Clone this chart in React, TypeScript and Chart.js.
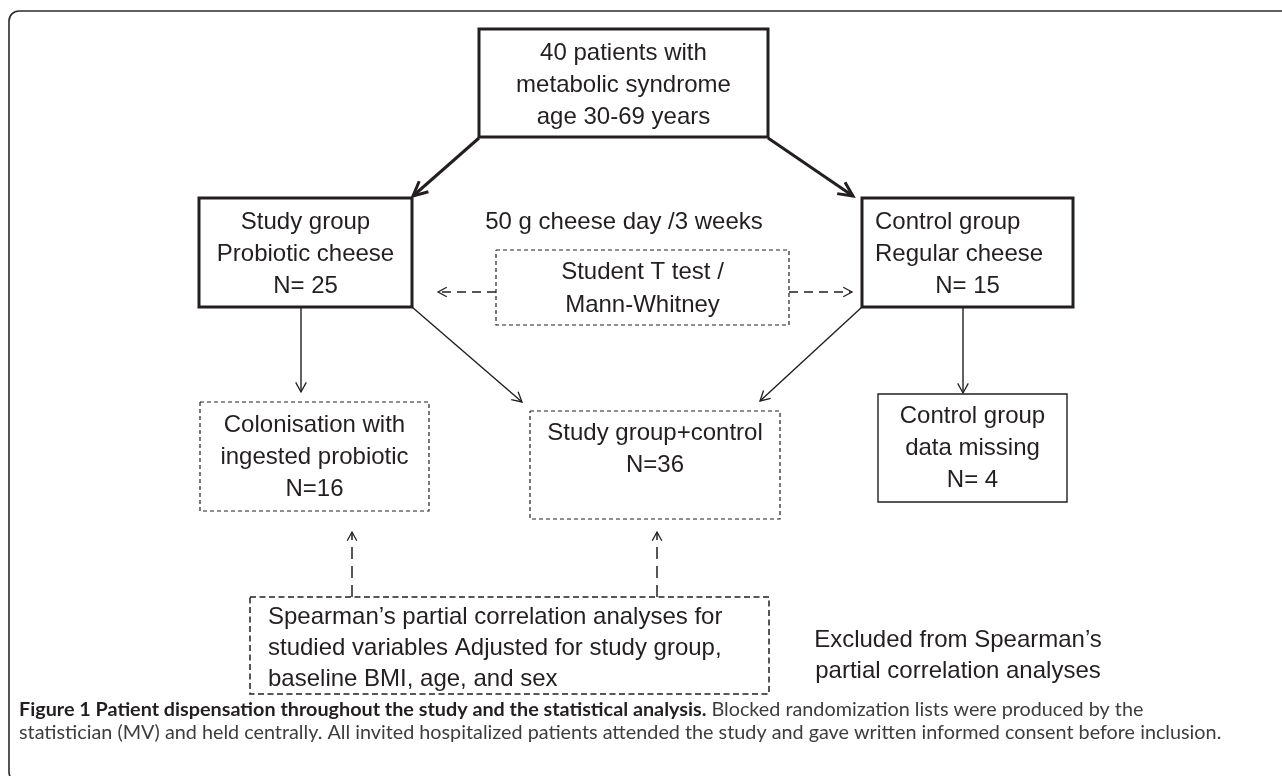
import React, { useEffect, useRef } from "react";
import { Chart, registerables } from "chart.js";

Chart.register(...registerables);

const W = 1282;
const H = 776;

// ---- data: participant counts ----
const totalPatients = 40;
const groupCounts = [25, 15]; // study (probiotic), control (regular)
const analysisCounts = [16, 36, 4]; // colonised, study+control, missing
const cheeseDose = "50 g cheese day /3 weeks";

// ---- nodes (labels) ----
const nodeText: string[][] = [
  [`${totalPatients} patients with`, "metabolic syndrome", "age 30-69 years"],
  ["Study group", "Probiotic cheese", `N= ${groupCounts[0]}`],
  ["Control group", "Regular cheese", `N= ${groupCounts[1]}`],
  ["Colonisation with", "ingested probiotic", `N=${analysisCounts[0]}`],
  ["Study group+control", `N=${analysisCounts[1]}`],
  ["Control group", "data missing", `N= ${analysisCounts[2]}`],
  ["Student T test /", "Mann-Whitney"],
  [
    "Spearman\u2019s partial correlation analyses for",
    "studied variables Adjusted for study group,",
    "baseline BMI, age, and sex",
  ],
];

// ---- layout (data units = pixels of the 1282x776 sheet) ----
const nodeLeft = [479, 199, 862, 200, 530, 878, 496, 250];
const nodeRight = [768, 412, 1073, 429, 780, 1067, 789, 769];
const nodeTop = [29, 198, 198, 402, 411, 394, 250, 597];
const nodeBottom = [137, 307, 307, 511, 519, 502, 325, 694];
const nodeKind = ["thick", "thick", "thick", "dash", "dash", "thin", "dash", "dash2"];
const nodeFirstLine = [24, 24, 24, 23, 22, 22, 22, 20];
const nodeLineStep = [32, 32, 32, 32, 32, 32, 33, 31];
const nodeAlign: string[][] = [
  ["c", "c", "c"],
  ["c", "c", "c"],
  ["l", "l", "c"],
  ["c", "c", "c"],
  ["c", "c"],
  ["c", "c", "c"],
  ["c", "c"],
  ["l", "l", "l"],
];

// edges: from -> to (arrow at "to")
const edgeFromX = [479, 768, 496, 789, 301, 412, 862, 963, 352, 657];
const edgeFromY = [138, 138, 292, 292, 307, 307, 307, 307, 597, 597];
const edgeToX = [413, 853, 438, 852, 301, 522, 760, 963, 352, 657];
const edgeToY = [196, 196, 292, 292, 392, 402, 401, 393, 532, 532];
const edgeKind = ["thick", "thick", "dashH", "dashH", "thin", "thin", "thin", "thin", "dashV", "dashV"];

// free labels
const freeText = [[cheeseDose], ["Excluded from Spearman\u2019s", "partial correlation analyses"]];
const freeX = [624, 958];
const freeY = [222, 640];

const captionBold = "Figure 1 Patient dispensation throughout the study and the statistical analysis.";
const captionLine1 = " Blocked randomization lists were produced by the";
const captionLine2 =
  "statistician (MV) and held centrally. All invited hospitalized patients attended the study and gave written informed consent before inclusion.";

const INK = "#231f20";
const FONT = '"Liberation Sans", Arial, Helvetica, sans-serif';

function styleFor(kind: string) {
  switch (kind) {
    case "thick":
      return { w: 3, dash: [] as number[], head: 16 };
    case "thin":
      return { w: 1.4, dash: [] as number[], head: 11 };
    case "dash":
      return { w: 1.2, dash: [4, 3], head: 10 };
    case "dash2":
      return { w: 1.5, dash: [6, 3.5], head: 10 };
    case "dashH":
      return { w: 1.3, dash: [9, 6], head: 10 };
    case "dashV":
      return { w: 1.5, dash: [12, 7], head: 10 };
    default:
      return { w: 1, dash: [] as number[], head: 10 };
  }
}

const flowPlugin = {
  id: "flowExtras",
  beforeDraw(chart: any) {
    const ctx = chart.ctx as CanvasRenderingContext2D;
    ctx.save();
    ctx.fillStyle = "#ffffff";
    ctx.fillRect(0, 0, chart.width, chart.height);
    // outer frame (rounded, open to the right/bottom)
    const x0 = 9, y0 = 11, x1 = 1300, y1 = 782, r = 10;
    ctx.strokeStyle = "#2b2b2b";
    ctx.lineWidth = 1.6;
    ctx.beginPath();
    ctx.moveTo(x1, y0);
    ctx.lineTo(x0 + r, y0);
    ctx.arcTo(x0, y0, x0, y0 + r, r);
    ctx.lineTo(x0, y1 - r);
    ctx.arcTo(x0, y1, x0 + r, y1, r);
    ctx.lineTo(x1, y1);
    ctx.stroke();
    ctx.restore();
  },
  afterDatasetsDraw(chart: any) {
    const ctx = chart.ctx as CanvasRenderingContext2D;
    const xs = chart.scales.x;
    const ys = chart.scales.y;
    const px = (v: number) => xs.getPixelForValue(v);
    const py = (v: number) => ys.getPixelForValue(v);
    ctx.save();
    // arrow heads
    edgeKind.forEach((k, i) => {
      const s = styleFor(k);
      const fx = px(edgeFromX[i]), fy = py(edgeFromY[i]);
      const tx = px(edgeToX[i]), ty = py(edgeToY[i]);
      const ang = Math.atan2(ty - fy, tx - fx);
      const spread = k === "thick" ? 0.45 : 0.5;
      ctx.strokeStyle = INK;
      ctx.lineWidth = k === "thick" ? 3 : 1.3;
      ctx.setLineDash([]);
      ctx.lineJoin = "miter";
      ctx.lineCap = "butt";
      ctx.beginPath();
      ctx.moveTo(tx - s.head * Math.cos(ang - spread), ty - s.head * Math.sin(ang - spread));
      ctx.lineTo(tx, ty);
      ctx.lineTo(tx - s.head * Math.cos(ang + spread), ty - s.head * Math.sin(ang + spread));
      ctx.stroke();
    });
    // node text
    ctx.fillStyle = INK;
    ctx.font = `24px ${FONT}`;
    ctx.textBaseline = "middle";
    nodeText.forEach((lines, i) => {
      const l = px(nodeLeft[i]), r = px(nodeRight[i]), t = py(nodeTop[i]);
      const pad = nodeKind[i] === "dash2" ? 18 : 13;
      lines.forEach((line, j) => {
        const a = nodeAlign[i][j];
        const y = t + nodeFirstLine[i] + j * nodeLineStep[i];
        if (a === "l") {
          ctx.textAlign = "left";
          ctx.fillText(line, l + pad, y);
        } else {
          ctx.textAlign = "center";
          ctx.fillText(line, (l + r) / 2, y);
        }
      });
    });
    freeText.forEach((lines, i) => {
      lines.forEach((line, j) => {
        ctx.textAlign = "center";
        ctx.fillText(line, px(freeX[i]), py(freeY[i]) + j * 31);
      });
    });
    // caption
    ctx.textAlign = "left";
    ctx.font = `18px Lato, "Open Sans", sans-serif`;
    const w2 = ctx.measureText(captionLine2).width;
    const size = (18 * 1203) / w2;
    ctx.font = `${size}px Lato, "Open Sans", sans-serif`;
    ctx.fillStyle = "#3d3d3d";
    ctx.fillText(captionLine2, 19, 733);
    ctx.font = `bold ${size}px Lato, "Open Sans", sans-serif`;
    ctx.fillStyle = "#231f20";
    ctx.fillText(captionBold, 19, 710);
    const bw = ctx.measureText(captionBold).width;
    ctx.font = `${size}px Lato, "Open Sans", sans-serif`;
    ctx.fillStyle = "#3d3d3d";
    ctx.fillText(captionLine1, 19 + bw, 710);
    ctx.restore();
  },
};

export default function App() {
  const canvasRef = useRef<HTMLCanvasElement | null>(null);

  useEffect(() => {
    const canvas = canvasRef.current;
    if (!canvas) return;
    const datasets: any[] = [];
    nodeKind.forEach((k, i) => {
      const s = styleFor(k);
      const l = nodeLeft[i], r = nodeRight[i], t = nodeTop[i], b = nodeBottom[i];
      const pts = [
        { x: l, y: t },
        { x: r, y: t },
        { x: r, y: b },
        { x: l, y: b },
        { x: l, y: t },
      ];
      if (s.dash.length === 0) pts.push({ x: r, y: t });
      datasets.push({
        data: pts,
        showLine: true,
        borderColor: INK,
        borderWidth: s.w,
        borderDash: s.dash,
        borderJoinStyle: "miter",
        borderCapStyle: "butt",
        pointRadius: 0,
        pointHoverRadius: 0,
        fill: false,
        tension: 0,
      });
    });
    edgeKind.forEach((k, i) => {
      const s = styleFor(k);
      datasets.push({
        data: [
          { x: edgeFromX[i], y: edgeFromY[i] },
          { x: edgeToX[i], y: edgeToY[i] },
        ],
        showLine: true,
        borderColor: INK,
        borderWidth: s.w,
        borderDash: s.dash,
        borderCapStyle: "butt",
        pointRadius: 0,
        pointHoverRadius: 0,
        fill: false,
        tension: 0,
      });
    });

    const chart = new Chart(canvas, {
      type: "scatter",
      data: { datasets },
      options: {
        animation: false,
        responsive: false,
        maintainAspectRatio: false,
        devicePixelRatio: 1,
        layout: { padding: 0 },
        events: [],
        scales: {
          x: { type: "linear", min: 0, max: W, display: false },
          y: { type: "linear", min: 0, max: H, reverse: true, display: false },
        },
        plugins: {
          legend: { display: false },
          tooltip: { enabled: false },
          title: { display: false },
        },
      },
      plugins: [flowPlugin],
    });
    return () => chart.destroy();
  }, []);

  return (
    <div style={{ position: "absolute", left: 0, top: 0, width: W, height: H, background: "#fff" }}>
      <canvas ref={canvasRef} width={W} height={H} style={{ width: W, height: H, display: "block" }} />
    </div>
  );
}
